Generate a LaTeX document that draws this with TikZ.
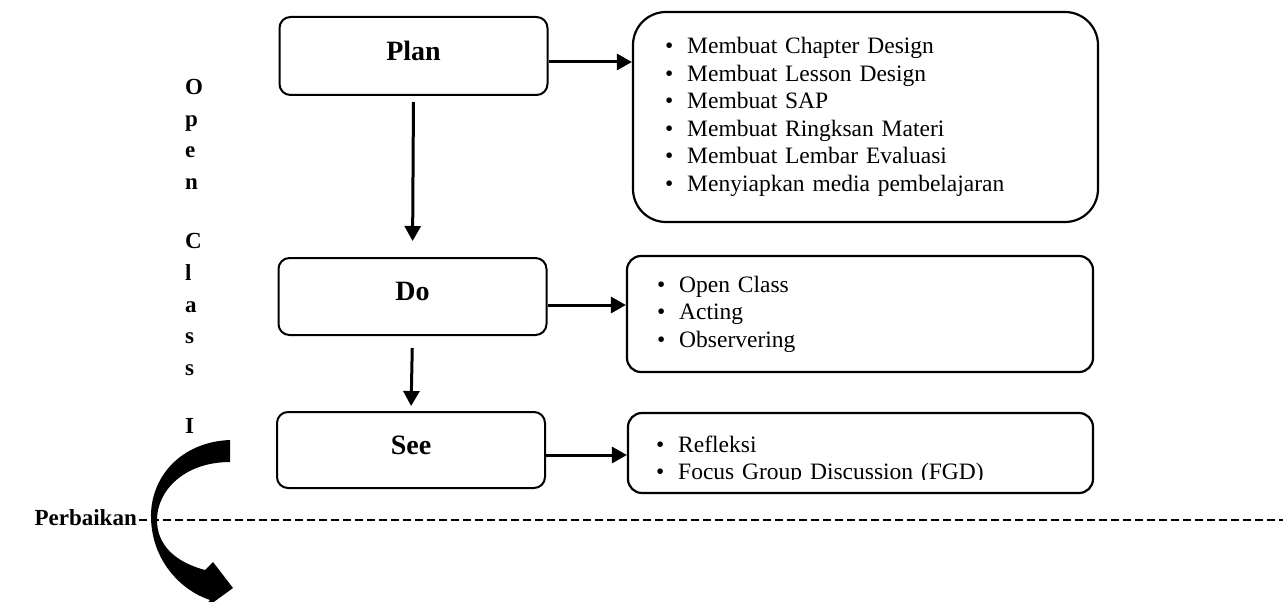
\documentclass[tikz,border=0pt]{standalone}
\usepackage{fontspec}
\setmainfont{Liberation Serif}
\usetikzlibrary{arrows.meta}

\tikzset{
  stage/.style={draw, line width=2pt, rounded corners=11pt, minimum width=268pt,
    text depth=10pt, font=\bfseries\fontsize{28}{32}\selectfont},
  listbox/.style={draw, line width=2.2pt, align=left, font=\fontsize{23.5}{27.5}\selectfont},
  flow/.style={line width=3pt, -{Triangle[length=15pt,width=16pt]}},
  sideletter/.style={anchor=base west, inner sep=0pt, font=\bfseries\fontsize{23}{23}\selectfont},
}
\newcommand{\bul}{\textbullet\hspace{14pt}}

\begin{document}
\begin{tikzpicture}[x=1pt,y=-1pt]
\useasboundingbox (0,0) rectangle (1283,602);

\node[stage, minimum height=78pt] (plan) at (413.5,56) {Plan};
\node[stage, minimum height=77pt] (do) at (412.5,296.5) {Do};
\node[stage, minimum height=76pt] (see) at (411,450) {See};

\node[listbox, rounded corners=33pt, minimum width=465pt, minimum height=210pt,
  inner xsep=32pt, text width=401pt] (planList) at (865.5,117)
  {\bul Membuat Chapter Design\\ \bul Membuat Lesson Design\\ \bul Membuat SAP\\
   \bul Membuat Ringksan Materi\\ \bul Membuat Lembar Evaluasi\\
   \bul Menyiapkan media pembelajaran};

\node[listbox, rounded corners=14pt, minimum width=466pt, minimum height=116pt,
  inner xsep=30pt, text width=406pt] (doList) at (860,314)
  {\bul Open Class\\ \bul Acting\\ \bul Observering};

\node[listbox, rounded corners=14pt, minimum width=465pt, minimum height=80pt] (seeList) at (860.5,453) {};
\begin{scope}
  \clip (620,400) rectangle (1100,479);
  \node[listbox, draw=none, inner xsep=28pt, text width=409pt] (seeText) at (860.5,460)
    {\bul Refleksi\\ \bul Focus Group Discussion (FGD)};
\end{scope}

\draw[flow] ([yshift=-6pt]plan.east) -- ([yshift=-6pt]planList.west |- plan.east);
\draw[flow] ([yshift=-8.5pt]do.east) -- ([yshift=-8.5pt]doList.west |- do.east);
\draw[flow] ([yshift=-5pt]see.east) -- ([yshift=-5pt]seeList.west |- see.east);

\draw[flow, shorten <=6pt, shorten >=16pt] (plan.south) -- (do.north);
\draw[flow, shorten <=12pt, shorten >=5pt] (do.south) -- (see.north);

% Open Class I
\foreach \chr/\yb [count=\k] in {O/95,p/126,e/157,n/189,C/248,l/280,a/312,s/343,s/375,I/433}
  \node[sideletter] (side\k) at (185,\yb) {\chr};

\node[anchor=base east, inner xsep=2pt, inner ysep=0pt,
  font=\bfseries\fontsize{23}{23}\selectfont] (perbaikan) at (139,525) {Perbaikan};
\coordinate (lineEnd) at (1283,520);
\draw[line width=2pt, dash pattern=on 8pt off 4pt] (perbaikan.east |- lineEnd) -- (lineEnd);

% curved arrow
\fill (230,440) .. controls (180,442) and (150,478) .. (151,518)
  .. controls (152,560) and (180,590) .. (210,600) -- (200,612) -- (233,588) -- (213,562)
  -- (205,570) .. controls (175,562) and (157,545) .. (157,520)
  .. controls (157,490) and (185,462) .. (230,462) -- cycle;
\end{tikzpicture}
\end{document}
